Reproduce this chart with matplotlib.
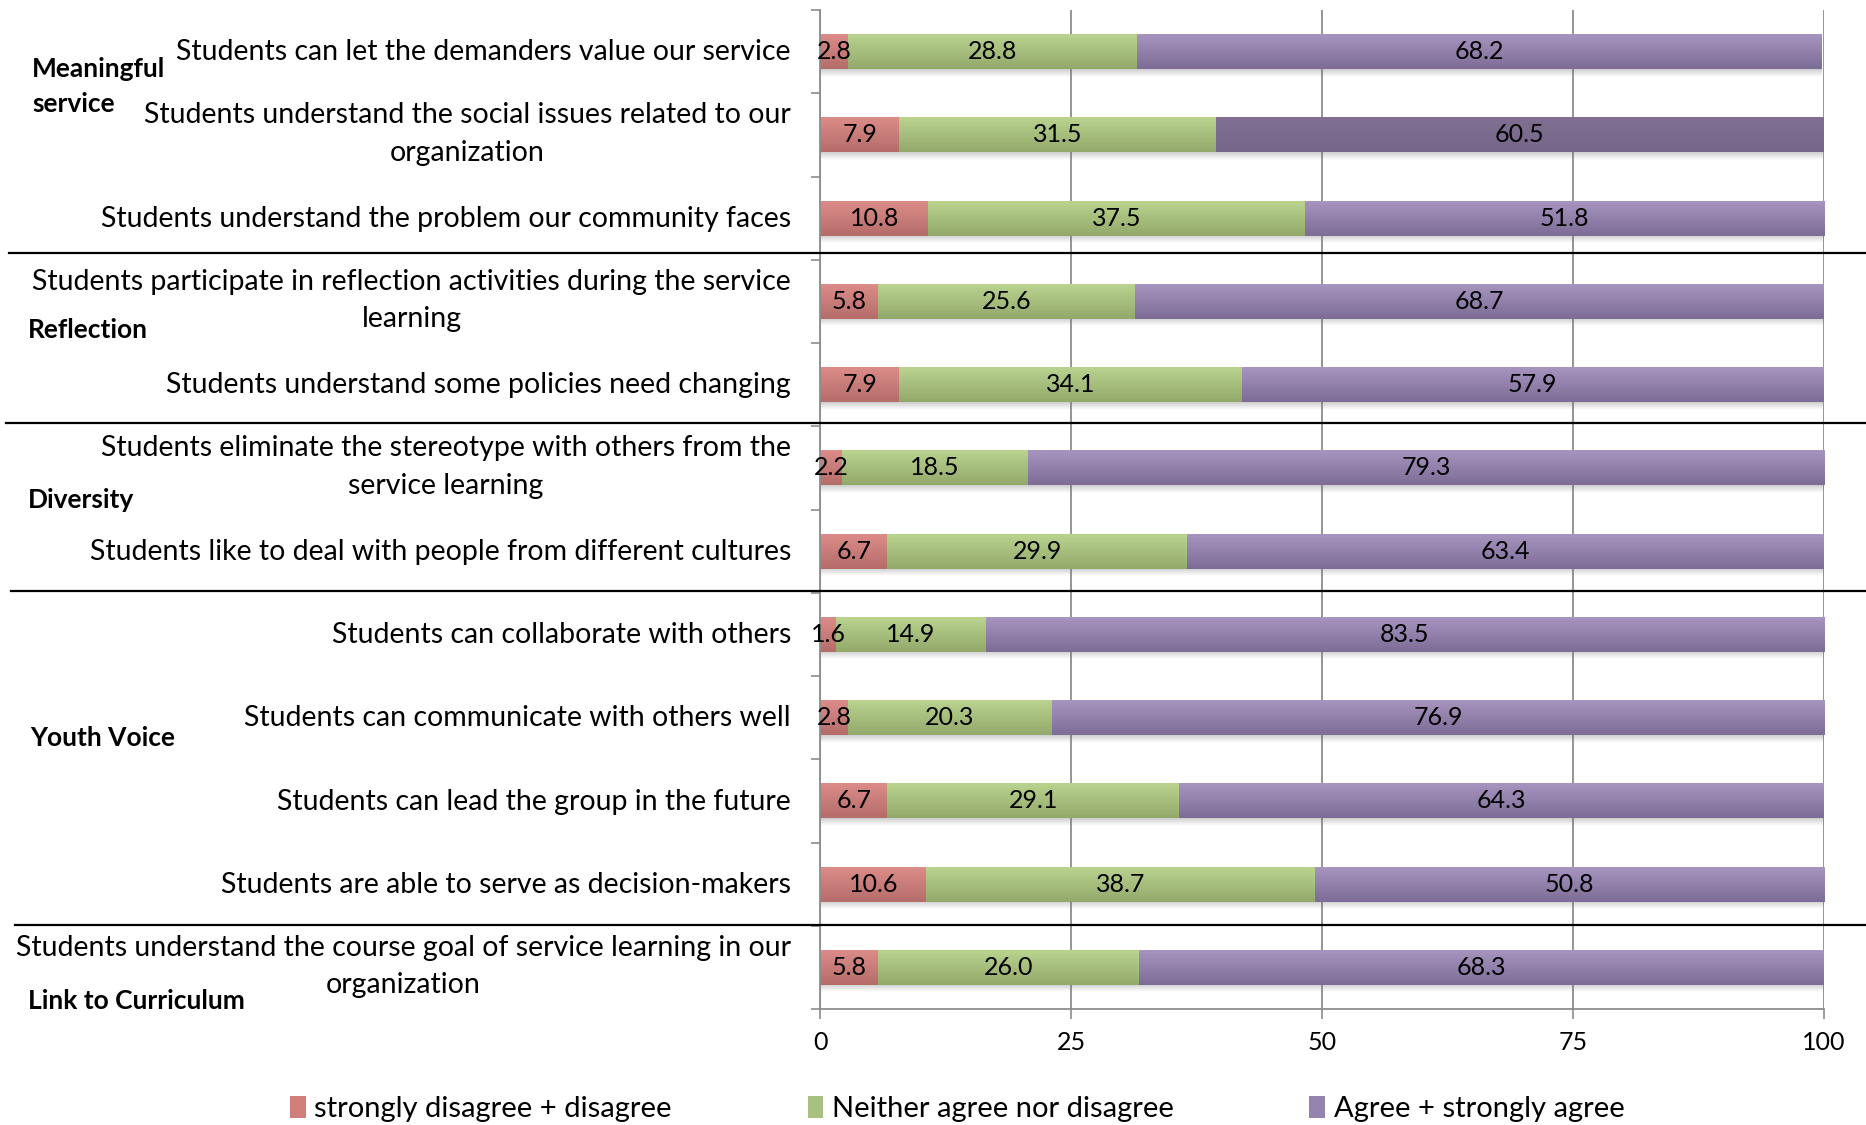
import numpy as np
import matplotlib.pyplot as plt
import matplotlib.transforms as mtransforms
from matplotlib.colors import LinearSegmentedColormap
from matplotlib.lines import Line2D
from matplotlib.patches import Patch

plt.rcParams['font.family'] = ['Lato', 'DejaVu Sans']

# Survey items, top to bottom
statements = [
    "Students can let the demanders value our service",
    "Students understand the social issues related to our\norganization",
    "Students understand the problem our community faces",
    "Students participate in reflection activities during the service\nlearning",
    "Students understand some policies need changing",
    "Students eliminate the stereotype with others from the\nservice learning",
    "Students like to deal with people from different cultures",
    "Students can collaborate with others",
    "Students can communicate with others well",
    "Students can lead the group in the future",
    "Students are able to serve as decision-makers",
    "Students understand the course goal of service learning in our\norganization",
]
groups = ["Meaningful\nservice", "Reflection", "Diversity", "Youth Voice", "Link to Curriculum"]
group_sizes = [3, 2, 2, 4, 1]

disagree = [2.8, 7.9, 10.8, 5.8, 7.9, 2.2, 6.7, 1.6, 2.8, 6.7, 10.6, 5.8]
neutral = [28.8, 31.5, 37.5, 25.6, 34.1, 18.5, 29.9, 14.9, 20.3, 29.1, 38.7, 26.0]
agree = [68.2, 60.5, 51.8, 68.7, 57.9, 79.3, 63.4, 83.5, 76.9, 64.3, 50.8, 68.3]

series_names = ["strongly disagree + disagree", "Neither agree nor disagree",
                "Agree + strongly agree"]
xticks = [0, 25, 50, 75, 100]

FS_LABEL = 20.5
FS_NUM = 18
FS_GROUP = 19
FS_LEGEND = 21
GRID = '#8c8c8c'

# (top, bottom) shades for the gradient fill of each series
shades = [('#dc8c89', '#b56d6a'), ('#bad38f', '#93a96b'), ('#a795c0', '#7c6c96')]
base = ['#d07e7b', '#a9c180', '#9483ad']
selected = 1  # row drawn with the darker, selected look
selected_shade = ('#7f7092', '#76678a')

fig = plt.figure(figsize=(18.66, 11.25), dpi=100)
ax = fig.add_axes([820 / 1866, 1 - 1009 / 1125, 1004 / 1866, 999 / 1125])

y = np.arange(len(statements))
height = 0.42
left = np.zeros(len(statements))
containers = []
for vals, col in zip([disagree, neutral, agree], base):
    bars = ax.barh(y, vals, height=height, left=left, color=col, zorder=2)
    containers.append(bars)
    left = left + np.array(vals)

# vertical gradient over every segment
ramp = np.linspace(0, 1, 64).reshape(-1, 1)
for k, bars in enumerate(containers):
    for i, p in enumerate(bars.patches):
        top, bot = shades[k]
        if k == 2 and i == selected:
            top, bot = selected_shade
        cmap = LinearSegmentedColormap.from_list('g', [top, bot])
        x0, y0, w, h = p.get_x(), p.get_y(), p.get_width(), p.get_height()
        ax.imshow(ramp, cmap=cmap, extent=[x0, x0 + w, y0 + h, y0],
                  aspect='auto', zorder=2.5, interpolation='bilinear')

# soft shadow under each bar
shadow = np.zeros((32, 1, 4))
shadow[..., :3] = 0.45
shadow[:, 0, 3] = np.linspace(0.35, 0.0, 32)
for i, p in enumerate(containers[0].patches):
    y0, h = p.get_y(), p.get_height()
    ax.imshow(shadow, extent=[0, left[i], y0 + h + 0.09, y0 + h],
              aspect='auto', zorder=1.5, interpolation='bilinear')

for bars in containers:
    labels = ax.bar_label(bars, fmt='%.1f', label_type='center', fontsize=FS_NUM,
                          color='black')
    for t in labels:
        t.set_zorder(5)

ax.set_xlim(0, 100)
ax.set_ylim(len(statements) - 0.5, -0.5)
ax.set_xticks(xticks)
ax.set_xticklabels([str(v) for v in xticks], fontsize=FS_NUM)
ax.set_yticks(np.arange(len(statements) + 1) - 0.5)
ax.set_yticklabels([])
ax.tick_params(axis='y', which='major', length=6.5, width=1.2, color=GRID)
ax.tick_params(axis='x', which='major', length=7, width=1.2, color=GRID, pad=9)
ax.grid(axis='x', color=GRID, linewidth=1.3, zorder=1)
ax.grid(axis='y', visible=False)
ax.set_axisbelow(True)
for side in ['top', 'right']:
    ax.spines[side].set_visible(False)
for side in ['left', 'bottom']:
    ax.spines[side].set_color(GRID)
    ax.spines[side].set_linewidth(1.3)

# statement labels: right aligned beside the axis, a wrapped second line
# centred under the first one
label_tr = (mtransforms.blended_transform_factory(ax.transAxes, ax.transData)
            + mtransforms.ScaledTranslation(-0.29, 0, fig.dpi_scale_trans))
for row, text in zip(y, statements):
    lines = text.split('\n')
    if len(lines) == 1:
        ax.text(0, row + 0.01, text, transform=label_tr, fontsize=FS_LABEL,
                ha='right', va='center')
        continue
    first = ax.text(0, row - 0.235, lines[0], transform=label_tr, fontsize=FS_LABEL,
                    ha='right', va='center')
    ax.annotate(lines[1], xy=(0.5, row + 0.215), xycoords=(first, 'data'),
                fontsize=FS_LABEL, ha='center', va='center', annotation_clip=False)

# group separators across the whole figure
trans = mtransforms.blended_transform_factory(fig.transFigure, ax.transData)
for ys, xs in zip([2.42, 4.46, 6.48, 10.49], [0.005, 0.003, 0.006, 0.008]):
    fig.add_artist(Line2D([xs, 1.0], [ys, ys], transform=trans, color='black',
                          linewidth=1.6, clip_on=False))

# group names
for name, ys, xs in zip(groups, [0.42, 3.34, 5.39, 8.24, 11.4], [32, 28, 28, 30, 28]):
    fig.text(xs / 1866, ys, name, transform=trans, fontsize=FS_GROUP, fontweight='bold',
             ha='left', va='center', linespacing=1.55)

handles = [Patch(facecolor=c, edgecolor='none') for c in base]
fig.legend(handles, series_names, loc='center', bbox_to_anchor=(0.513, 1 - 1109 / 1125),
           ncol=3, frameon=False, fontsize=FS_LEGEND, handlelength=0.53, handleheight=0.8,
           handletextpad=0.3, columnspacing=4.65)

fig.savefig('out.png', dpi=100)
